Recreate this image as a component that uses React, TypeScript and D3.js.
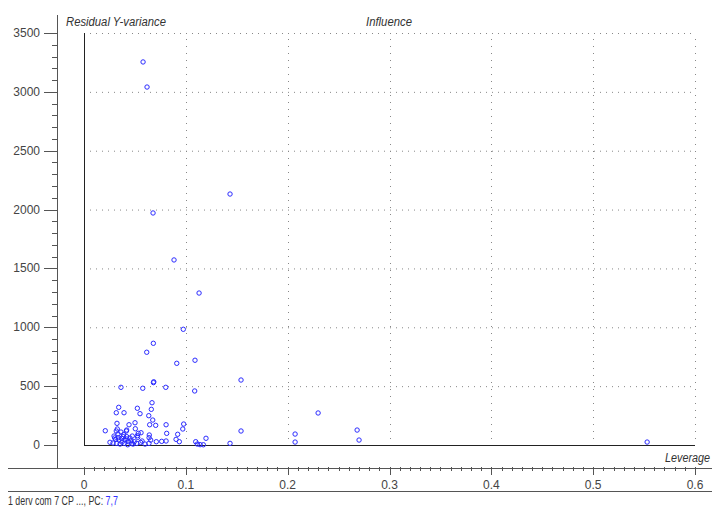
import React, { useEffect, useRef } from 'react';
import * as d3 from 'd3';

// leverage (x) and residual Y-variance (y) per sample
const leverage = [
  0.058, 0.0619, 0.0678, 0.1434, 0.0884, 0.113, 0.0975, 0.0681, 0.0616, 0.0911,
  0.109, 0.1542, 0.0685, 0.0682, 0.0363, 0.0577, 0.0803, 0.1087, 0.0341, 0.0317,
  0.0393, 0.0524, 0.055, 0.0668, 0.0661, 0.0636, 0.0675, 0.0645, 0.0704, 0.0806,
  0.0812, 0.0979, 0.097, 0.092, 0.0904, 0.0936, 0.0209, 0.0324, 0.0317, 0.0442,
  0.0501, 0.0504, 0.0416, 0.0474, 0.0533, 0.056, 0.0527, 0.0641, 0.0639, 0.0655,
  0.071, 0.0763, 0.0806, 0.1097, 0.1113, 0.114, 0.1172, 0.1198, 0.1434, 0.0255,
  0.2299, 0.1542, 0.2073, 0.2073, 0.2682, 0.2701, 0.553, 0.0327, 0.0419, 0.0524,
  0.0311, 0.0337, 0.037, 0.0386, 0.0419, 0.0435, 0.0469, 0.0494, 0.0518, 0.0321,
  0.0396, 0.0429, 0.0344, 0.0354, 0.0373, 0.0403, 0.0452, 0.0481, 0.0334, 0.0363,
  0.0295, 0.0285, 0.0422, 0.057, 0.0599, 0.0638, 0.0462, 0.0389, 0.0301, 0.0556,
];
const residual = [
  3254, 3041, 1971, 2132, 1572, 1291, 983, 864, 788, 694,
  720, 552, 537, 530, 490, 482, 490, 459, 320, 274,
  274, 312, 266, 359, 303, 249, 212, 172, 167, 172,
  99, 178, 136, 91, 48, 28, 121, 184, 119, 172,
  189, 138, 119, 76, 99, 104, 65, 85, 62, 42,
  28, 31, 34, 28, 8, 3, 2, 57, 14, 23,
  272, 119, 93, 25, 127, 42, 25, 136, 127, 79,
  48, 62, 57, 71, 71, 28, 14, 28, 14, 14,
  14, 2, 42, 8, 25, 42, 59, 8, 93, 110,
  76, 17, 51, 34, 8, 14, 36, 88, 60, 22,
];

const yTicks = [0, 500, 1000, 1500, 2000, 2500, 3000, 3500];
const xTicks = [0, 0.1, 0.2, 0.3, 0.4, 0.5, 0.6];

const font = '"Liberation Sans", Arial, sans-serif';

const App = () => {
  const svgRef = useRef<SVGSVGElement>(null);

  useEffect(() => {
    const svg = d3.select(svgRef.current);
    svg.selectAll('*').remove();

    const x = d3.scaleLinear().domain([0, 0.6]).range([84, 695]);
    const y = d3.scaleLinear().domain([0, 3500]).range([445, 33]);

    // dotted grid
    svg.append('g')
      .selectAll('line')
      .data(yTicks.slice(1))
      .join('line')
      .attr('x1', x(0) + 6).attr('x2', x(0.6))
      .attr('y1', (d) => y(d) + 0.5).attr('y2', (d) => y(d) + 0.5)
      .attr('stroke', '#888').attr('stroke-dasharray', '1,5');

    svg.append('g')
      .selectAll('line')
      .data(xTicks.slice(1))
      .join('line')
      .attr('x1', (d) => Math.round(x(d)) + 0.5).attr('x2', (d) => Math.round(x(d)) + 0.5)
      .attr('y1', y(3500) + 6).attr('y2', y(0))
      .attr('stroke', '#888').attr('stroke-dasharray', '1,6');

    // inner axes through zero
    svg.append('line')
      .attr('x1', x(0) + 0.5).attr('x2', x(0) + 0.5)
      .attr('y1', y(3500)).attr('y2', y(0))
      .attr('stroke', '#222');
    svg.append('line')
      .attr('x1', x(0)).attr('x2', x(0.6))
      .attr('y1', y(0) + 0.5).attr('y2', y(0) + 0.5)
      .attr('stroke', '#222');

    // outer y axis
    const yAxis = svg.append('g');
    yAxis.append('line')
      .attr('x1', 57.5).attr('x2', 57.5).attr('y1', 15).attr('y2', 468)
      .attr('stroke', '#555');
    yAxis.selectAll('line.minor')
      .data(d3.range(0, 3501, 100))
      .join('line')
      .attr('class', 'minor')
      .attr('x1', (d) => (d % 500 === 0 ? 44 : 52)).attr('x2', 57)
      .attr('y1', (d) => Math.round(y(d)) + 0.5).attr('y2', (d) => Math.round(y(d)) + 0.5)
      .attr('stroke', '#555');
    yAxis.selectAll('text')
      .data(yTicks)
      .join('text')
      .attr('x', 40).attr('y', (d) => y(d) + 4)
      .attr('text-anchor', 'end')
      .attr('font-family', font).attr('font-size', 12).attr('fill', '#444')
      .text((d) => d);

    // outer x axis
    const xAxis = svg.append('g');
    xAxis.append('line')
      .attr('x1', 8).attr('x2', 712).attr('y1', 468.5).attr('y2', 468.5)
      .attr('stroke', '#555');
    xAxis.selectAll('line.minor')
      .data(d3.range(0, 61).map((i) => i / 100))
      .join('line')
      .attr('class', 'minor')
      .attr('x1', (d) => Math.round(x(d)) + 0.5).attr('x2', (d) => Math.round(x(d)) + 0.5)
      .attr('y1', 467).attr('y2', (_, i) => (i % 10 === 0 ? 475 : 471))
      .attr('stroke', '#555');
    xAxis.selectAll('text')
      .data(xTicks)
      .join('text')
      .attr('x', (d) => x(d)).attr('y', 489)
      .attr('text-anchor', 'middle')
      .attr('font-family', font).attr('font-size', 12).attr('fill', '#444')
      .text((d) => d);
    xAxis.append('line')
      .attr('x1', 8).attr('x2', 712).attr('y1', 491.5).attr('y2', 491.5)
      .attr('stroke', '#555');

    // condensed text: draw at natural size then squeeze horizontally to the wanted width
    const squeezed = (tx: number, ty: number, anchor: string, width: number, italic: boolean) => {
      const g = svg.append('g');
      const t = g.append('text')
        .attr('text-anchor', anchor)
        .attr('font-family', font).attr('font-size', 12)
        .attr('font-style', italic ? 'italic' : 'normal').attr('fill', '#333');
      return { g, t, fit: () => {
        const w = (t.node() as SVGTextElement).getComputedTextLength() || width;
        g.attr('transform', `translate(${tx},${ty}) scale(${Math.min(1, width / w)},1)`);
      } };
    };

    const titles: [number, number, string, number, string][] = [
      [66, 26, 'start', 100, 'Residual Y-variance'],
      [366, 26, 'start', 46, 'Influence'],
      [710, 462, 'end', 45, 'Leverage'],
    ];
    titles.forEach(([tx, ty, anchor, w, label]) => {
      const s = squeezed(tx, ty, anchor, w, true);
      s.t.text(label);
      s.fit();
    });

    // footer
    const foot = squeezed(8, 505, 'start', 110, false);
    foot.t.append('tspan').text('1 derv com 7 CP ..., PC: ');
    foot.t.append('tspan').attr('fill', '#3333ff').text('7,7');
    foot.fit();

    // samples
    svg.append('g')
      .selectAll('circle')
      .data(leverage.map((l, i) => [l, residual[i]]))
      .join('circle')
      .attr('cx', (d) => x(d[0]))
      .attr('cy', (d) => y(d[1]))
      .attr('r', 2.2)
      .attr('fill', 'none')
      .attr('stroke', '#2b2bff')
      .attr('stroke-width', 1);
  }, []);

  return (
    <div style={{ position: 'fixed', left: 0, top: 0 }}>
      <svg ref={svgRef} width={712} height={508} style={{ display: 'block', background: '#fff' }}></svg>
    </div>
  );
};

export default App;
